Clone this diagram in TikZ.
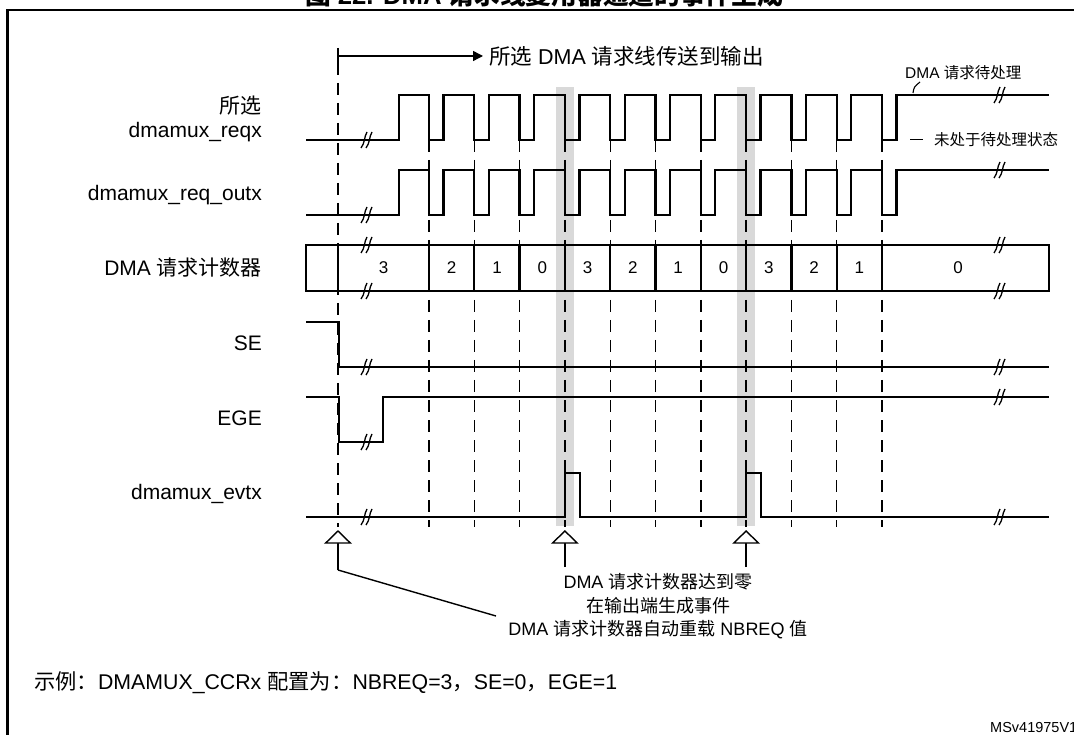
\documentclass[tikz,border=0pt]{standalone}
\usepackage{fontspec}
\setmainfont{Liberation Sans}
\newfontfamily\cjk{Noto Sans CJK SC}
\usetikzlibrary{arrows.meta}
\begin{document}
\begin{tikzpicture}[x=1pt,y=-1pt,
  sig/.style={line width=2.3pt, line join=miter},
  dsh/.style={line width=1.4pt, dash pattern=on 12pt off 8pt},
  thin/.style={line width=1.4pt},
  lbl/.style={font=\fontsize{21}{25}\selectfont, anchor=east, inner sep=0pt},
  dig/.style={font=\fontsize{17}{20}\selectfont, inner sep=0pt},
  note/.style={font=\fontsize{18}{22}\selectfont, inner sep=0pt},
  small/.style={font=\fontsize{15.5}{18}\selectfont, inner sep=0pt, anchor=west},
  band/.style={fill=black!15},
  brkpic/.pic={
    \draw[line width=1.3pt] (-6,8) .. controls (-2,3) and (-3,-3) .. (0,-8);
    \draw[line width=1.3pt] (-1,8) .. controls (3,3) and (2,-3) .. (5,-8);
  }]
\useasboundingbox (0,0) rectangle (1074,735);

% title (clipped at top) and frame
\node[anchor=base, inner sep=0pt, font=\bfseries\fontsize{25.7}{30}\selectfont] (title) at (544,5)
  {{\cjk 图} 22. DMA {\cjk 请求线复用器通道的事件生成}};
\draw[line width=2.4pt] (7.5,745) -- (7.5,10) -- (1085,10);

% shaded bands
\fill[band] (556,87) rectangle (574,526);
\fill[band] (737,87) rectangle (755,526);

% dashed guide lines
\draw[dsh] (338,63) -- (338,527);
\foreach \k in {0,...,10} {
  \draw[dsh] ({429+45.3*\k},140) -- ({429+45.3*\k},527);
}

% top arrow
\draw[thin] (338,48) -- (338,64);
\coordinate (arS) at (338,56);
\coordinate (arE) at (483,56);
\node[anchor=west, inner sep=0pt, font=\fontsize{21.5}{25}\selectfont] (arT) at (489,56)
  {{\cjk 所选} DMA {\cjk 请求线传送到输出}};
\draw[thin, -{Triangle[length=10pt,width=10pt]}] (arS) -- (arE);

% labels
\node[lbl] (l0) at (262,106) {\cjk 所选};
\node[lbl] (l1) at (262,132) {dmamux\_reqx};
\node[lbl] (l2) at (262,195) {dmamux\_req\_outx};
\node[lbl] (l3) at (262,268) {DMA {\cjk 请求计数器}};
\node[lbl] (l4) at (262,343) {SE};
\node[lbl] (l5) at (262,418) {EGE};
\node[lbl] (l6) at (262,494) {dmamux\_evtx};

% dmamux_reqx
\draw[sig] (306,140) -- (399,140) -- (399,95)
  \foreach \k in {0,...,10} { -- ({429+45.3*\k},95) -- ({429+45.3*\k},140) -- ({443.5+45.3*\k},140) -- ({443.5+45.3*\k},95) }
  -- (1049,95);
% dmamux_req_outx
\draw[sig] (306,215) -- (399,215) -- (399,170)
  \foreach \k in {0,...,10} { -- ({429+45.3*\k},170) -- ({429+45.3*\k},215) -- ({443.5+45.3*\k},215) -- ({443.5+45.3*\k},170) }
  -- (1049,170);

% counter
\draw[sig] (306,245) rectangle (1049,291);
\draw[sig] (338,245) -- (338,291);
\foreach \k in {0,...,10} {
  \draw[sig] ({429+45.3*\k},245) -- ({429+45.3*\k},291);
}
\node[dig] (c1) at (383.5,268) {3};
\node[dig] (c2) at (451.7,268) {2};
\node[dig] (c3) at (497,268) {1};
\node[dig] (c4) at (542.3,268) {0};
\node[dig] (c5) at (587.6,268) {3};
\node[dig] (c6) at (632.9,268) {2};
\node[dig] (c7) at (678.2,268) {1};
\node[dig] (c8) at (723.5,268) {0};
\node[dig] (c9) at (768.8,268) {3};
\node[dig] (c10) at (814.1,268) {2};
\node[dig] (c11) at (859.4,268) {1};
\node[dig] (c12) at (958,268) {0};

% SE
\draw[sig] (306,322) -- (339,322) -- (339,367) -- (1049,367);
% EGE
\draw[sig] (306,397) -- (339,397) -- (339,442) -- (383,442) -- (383,397) -- (1049,397);
% evtx
\draw[sig] (306,517) -- (564.9,517) -- (564.9,473) -- (580,473) -- (580,517)
  -- (746.1,517) -- (746.1,473) -- (761,473) -- (761,517) -- (1049,517);

% break marks
\foreach \bx/\by in {367/140, 1000/95, 367/215, 1000/170, 367/245, 367/291,
  1000/245, 1000/291, 367/367, 1000/367, 367/442, 1000/397, 367/517, 1000/517} {
  \pic at (\bx,\by) {brkpic};
}

% side notes
\node[small] (pend) at (905,73) {DMA {\cjk 请求待处理}};
\draw[line width=1.1pt] (913,93) .. controls (914,87) .. (920,82);
\node[small] (npend) at (934,139.5) {\cjk 未处于待处理状态};
\draw[thin] (910,139.5) -- (923,139.5);

% up arrows
\foreach \ax/\ay [count=\i] in {338/570, 564.9/567, 746.1/567} {
  \coordinate (at\i) at (\ax,531);
  \coordinate (ab\i) at (\ax,\ay);
  \draw[thin] (ab\i) -- (\ax,543);
  \draw[thin, fill=white, line join=miter] (at\i) -- (\ax+12.3,543) -- (\ax-12.3,543) -- cycle;
}
\coordinate (diagE) at (496,616);
\draw[thin] (ab1) -- (diagE);

% bottom notes
\node[note] (n1) at (658,582) {DMA {\cjk 请求计数器达到零}};
\node[note] (n2) at (658,606) {\cjk 在输出端生成事件};
\node[note] (n3) at (658,630) {DMA {\cjk 请求计数器自动重载} NBREQ {\cjk 值}};

\node[anchor=west, inner sep=0pt, font=\fontsize{21.3}{25}\selectfont] (ex) at (34,683)
  {{\cjk 示例：}DMAMUX\_CCRx {\cjk 配置为：}NBREQ=3{\cjk ，}SE=0{\cjk ，}EGE=1};
\node[anchor=west, inner sep=0pt, font=\fontsize{14.5}{17}\selectfont] (ms) at (990,728) {MSv41975V1};
\end{tikzpicture}
\end{document}
